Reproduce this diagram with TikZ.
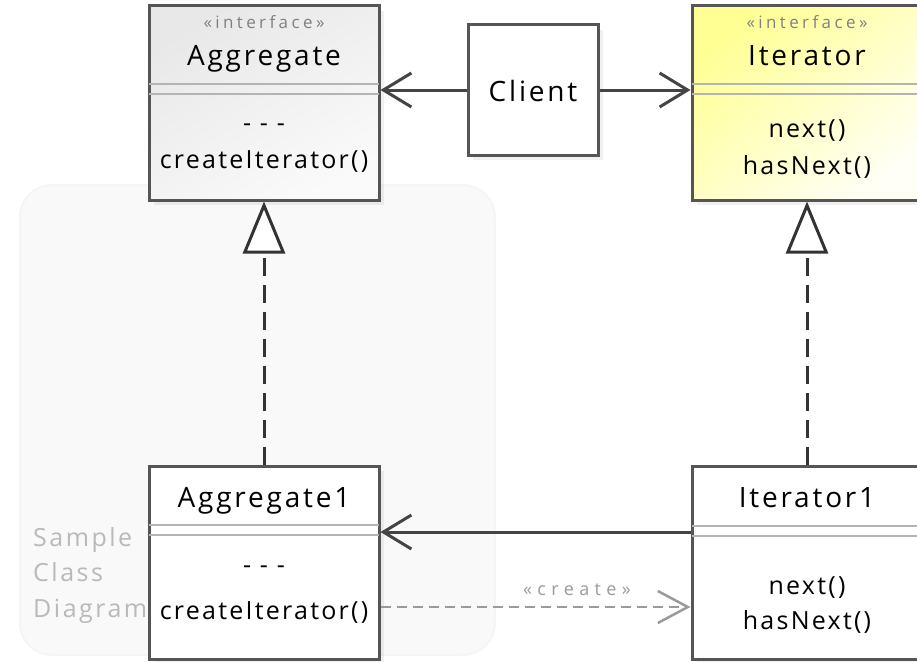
\documentclass[tikz,border=0pt]{standalone}
\usepackage{fontspec}
\setmainfont[LetterSpace=10]{Open Sans}
\usepackage{xcolor}
\usetikzlibrary{arrows.meta,positioning,calc,shadows}

\definecolor{boxgray}{HTML}{555555}
\definecolor{sepgray}{HTML}{B4B4B4}
\definecolor{lightgray}{HTML}{9A9A9A}
\definecolor{panelgray}{HTML}{F9F9F9}

\newcommand{\namefont}{\fontsize{28}{32}\selectfont}
\newcommand{\opfont}{\fontsize{25}{28}\selectfont\addfontfeature{LetterSpace=9}}
\newcommand{\stereofont}{\fontsize{17}{19}\selectfont\addfontfeature{LetterSpace=20}}

\begin{document}
\begin{tikzpicture}[x=1pt, y=-1pt,
    classbox/.style={draw=boxgray, line width=3pt, minimum width=230pt, inner sep=0pt,
        drop shadow={opacity=0.12, shadow xshift=5pt, shadow yshift=-5pt}},
    nametxt/.style={anchor=base, font=\namefont, inner sep=0pt},
    optxt/.style={anchor=base, font=\opfont, inner sep=0pt},
    stereotxt/.style={anchor=base, font=\stereofont, text=gray, inner sep=0pt},
    sepline/.style={draw=sepgray, line width=2pt, shorten <=1.5pt, shorten >=1.5pt},
    assoc/.style={draw=boxgray!80!black, line width=3pt, -{Straight Barb[length=28pt, width=34pt]}},
    realize/.style={draw=boxgray!60!black, line width=3pt, dash pattern=on 18pt off 9pt,
        -{Triangle[open, length=52pt, width=42pt, fill=white]}},
    createdep/.style={draw=lightgray, line width=2.5pt, dash pattern=on 10pt off 6pt,
        -{Straight Barb[length=30pt, width=32pt]}}]
\useasboundingbox (0,0) rectangle (917,661);

% sample panel
\fill[panelgray, draw=gray!8, line width=2pt, rounded corners=32pt] (20,185) rectangle (495,655);
\node[anchor=north west, align=left, text=gray!55, font=\fontsize{25}{28}\selectfont, inner sep=0pt]
    (sample) at (33,527) {Sample\\[7.5pt]Class\\[7.5pt]Diagram};

% classes
\node[classbox, minimum height=194pt, top color=gray!18, bottom color=gray!4, shading angle=30]
    (agg) at (264,103) {};
\node[classbox, minimum height=194pt, top color=yellow!42, bottom color=yellow!4, shading angle=40]
    (it) at (807,103) {};
\node[classbox, minimum width=130pt, minimum height=130pt, fill=white] (cl) at (533,90) {};
\node[classbox, minimum height=193pt, fill=white] (agg1) at (264,562.5) {};
\node[classbox, minimum height=193pt, fill=white] (it1) at (807,562.5) {};

% compartments
\foreach \b/\d in {agg/79, it/79, agg1/60, it1/61}{
    \draw[sepline] ([yshift=-\d pt]\b.north west) -- ([yshift=-\d pt]\b.north east);
    \draw[sepline] ([yshift={-(\d+10)*1pt}]\b.north west) -- ([yshift={-(\d+10)*1pt}]\b.north east);
}

% texts
\node[stereotxt] (aggst) at (264,29) {«interface»};
\node[nametxt] (aggname) at (264,65) {Aggregate};
\node[optxt] (aggattr) at (264,131) {- - -};
\node[optxt] (aggop) at (264,168) {createIterator()};

\node[stereotxt] (itst) at (807,29) {«interface»};
\node[nametxt] (itname) at (807,65) {Iterator};
\node[optxt] (itnext) at (807,137) {next()};
\node[optxt] (ithas) at (807,174) {hasNext()};

\node[nametxt] (clname) at (533,101) {Client};

\node[nametxt] (agg1name) at (264,507) {Aggregate1};
\node[optxt] (agg1attr) at (264,573) {- - -};
\node[optxt] (agg1op) at (264,619) {createIterator()};

\node[nametxt] (it1name) at (807,507) {Iterator1};
\node[optxt] (it1next) at (807,594) {next()};
\node[optxt] (it1has) at (807,629) {hasNext()};

% connectors
\draw[assoc] (cl.west) -- (cl.west -| agg.east);
\draw[assoc] (cl.east) -- (cl.east -| it.west);
\draw[assoc] ([yshift=30.5pt]it1.west) -- ([yshift=30.5pt]it1.west -| agg1.east);
\draw[createdep] ([yshift=-44.5pt]agg1.east) -- ([yshift=-44.5pt]it1.west);
\node[anchor=base, inner sep=0pt, text=lightgray,
    font=\fontsize{18}{20}\selectfont\addfontfeature{LetterSpace=30}] (createlbl) at (577,595) {«create»};
\draw[realize] (agg1.north) -- (agg.south);
\draw[realize] (it1.north) -- (it.south);
\end{tikzpicture}
\end{document}
